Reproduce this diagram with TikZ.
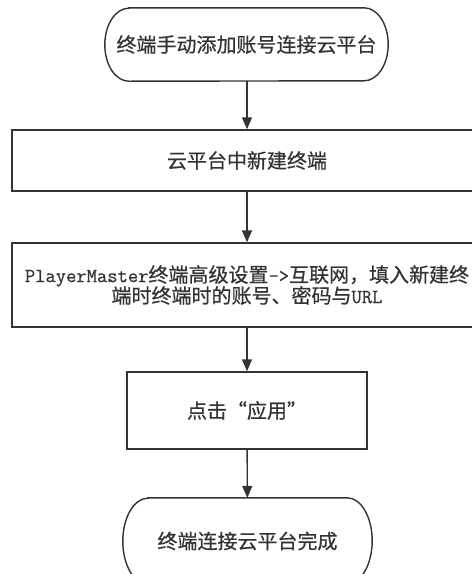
\documentclass[tikz,border=0pt]{standalone}
\usepackage{fontspec}
\setmainfont{Noto Sans CJK SC}
\newfontfamily\cjk[FakeBold=0.6]{Noto Sans CJK SC}
\newfontfamily\lat[FakeBold=0.6]{Latin Modern Mono}
\usetikzlibrary{arrows.meta}
\definecolor{ink}{HTML}{333333}
\newcommand\termoutline[3]{\draw[inkline] ([xshift=#2]#1.north west) -- ([xshift=-#2]#1.north east) arc[start angle=90,end angle=-90,x radius=#2,y radius=#3] -- ([xshift=#2]#1.south west) arc[start angle=270,end angle=90,x radius=#2,y radius=#3] -- cycle;}
\begin{document}
\begin{tikzpicture}[x=1pt,y=-1pt,
  every node/.style={font=\cjk\fontsize{20}{24}\selectfont, text=ink, align=center, inner sep=0pt},
  inkline/.style={draw=ink, line width=1.4pt},
  procbox/.style={inkline, rectangle, fill=white},
  termbox/.style={rectangle},
  flow/.style={inkline, -{Triangle[length=12pt,width=10pt]}}]
\useasboundingbox (0,0) rectangle (472,574);
\begin{scope}
\clip (0,0) rectangle (472,574);
\node[termbox, minimum width=283pt, minimum height=73pt] (t1) at (246.5,44.5) {终端手动添加账号连接云平台};
\termoutline{t1}{24pt}{36.5pt}
\node[procbox, minimum width=470pt, minimum height=61pt] (b2) at (247,160.5) {云平台中新建终端};
\node[procbox, minimum width=470pt, minimum height=84pt] (b3) at (247,285) {{\lat PlayerMaster}终端高级设置{\lat ->}互联网，填入新建终\\[-3pt]端时终端时的账号、密码与{\lat URL}};
\node[procbox, minimum width=240pt, minimum height=77pt] (b4) at (247,410.5) {点击“应用”};
\node[termbox, minimum width=249pt, minimum height=86pt] (t5) at (247.5,541) {终端连接云平台完成};
\termoutline{t5}{25pt}{43pt}
\draw[flow] (t1.south -| b2.north) -- (b2.north);
\draw[flow] (b2) -- (b3);
\draw[flow] (b3) -- (b4);
\draw[flow] (b4) -- (t5);
\end{scope}
\end{tikzpicture}
\end{document}
